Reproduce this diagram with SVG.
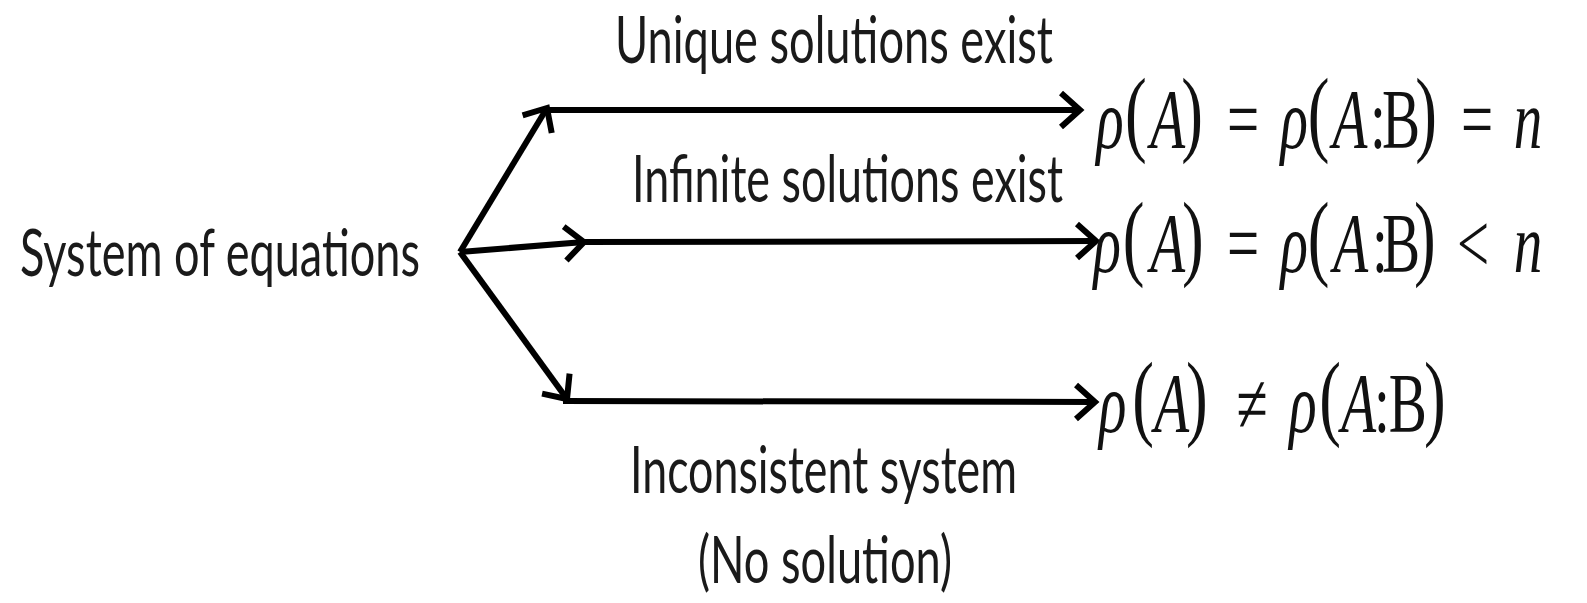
<svg xmlns="http://www.w3.org/2000/svg" width="1587" height="603" viewBox="0 0 1587 603">
<defs>
<marker id="arr" viewBox="-30 -25 40 50" refX="0" refY="0" markerWidth="40" markerHeight="50" markerUnits="userSpaceOnUse" orient="auto">
<path d="M-19,-17 L0,0 L-19,17" fill="none" stroke="#000" stroke-width="6" stroke-linejoin="miter"/>
</marker>
</defs>
<style>
.lbl{font-family:Lato,"Liberation Sans",sans-serif;font-size:66px;fill:#1a1a1a}
.ln{fill:none;stroke:#000;stroke-width:6}
.m{font-family:"Liberation Serif",serif;font-size:84px;fill:#111;text-anchor:middle}
.mi{font-style:italic}
.p{font-size:96px}
</style>
<rect width="1587" height="603" fill="#fff"/>
<g id="connectors">
<line class="ln" x1="460" y1="252" x2="547" y2="108" marker-end="url(#arr)"/>
<line class="ln" x1="543" y1="110" x2="1080" y2="110" marker-end="url(#arr)"/>
<line class="ln" x1="460" y1="252" x2="584" y2="242" marker-end="url(#arr)"/>
<line class="ln" x1="580" y1="242" x2="1096" y2="241" marker-end="url(#arr)"/>
<line class="ln" x1="460" y1="252" x2="567" y2="399" marker-end="url(#arr)"/>
<line class="ln" x1="563" y1="401" x2="1095" y2="402" marker-end="url(#arr)"/>
</g>
<g id="source">
<text class="lbl" x="20" y="276" textLength="400" lengthAdjust="spacingAndGlyphs">System of equations</text>
</g>
<g id="label-unique">
<text class="lbl" x="615" y="63" textLength="438" lengthAdjust="spacingAndGlyphs">Unique solutions exist</text>
</g>
<g id="label-infinite">
<text class="lbl" x="632" y="202" textLength="431" lengthAdjust="spacingAndGlyphs">Infinite solutions exist</text>
</g>
<g id="label-inconsistent">
<text class="lbl" x="630" y="493" textLength="387" lengthAdjust="spacingAndGlyphs">Inconsistent system</text>
<text class="lbl" x="698" y="583" textLength="254" lengthAdjust="spacingAndGlyphs">(No solution)</text>
</g>
<g id="result-unique">
<text class="m" transform="translate(1080,0) scale(0.68,1)"><tspan class="mi" x="44" y="148">ρ</tspan><tspan class="p" x="82" y="144">(</tspan><tspan class="mi" x="129" y="148">A</tspan><tspan class="p" x="165" y="144">)</tspan><tspan x="240" y="148">=</tspan><tspan class="mi" x="315" y="148">ρ</tspan><tspan class="p" x="351" y="144">(</tspan><tspan class="mi" x="397" y="148">A</tspan><tspan x="438" y="148">:</tspan><tspan x="472" y="148">B</tspan><tspan class="p" x="509" y="144">)</tspan><tspan x="584" y="148">=</tspan><tspan class="mi" x="659" y="148">n</tspan></text>
</g>
<g id="result-infinite">
<text class="m" transform="translate(1080,0) scale(0.68,1)"><tspan class="mi" x="40" y="272">ρ</tspan><tspan class="p" x="79" y="268">(</tspan><tspan class="mi" x="129" y="272">A</tspan><tspan class="p" x="166" y="268">)</tspan><tspan x="240" y="272">=</tspan><tspan class="mi" x="315" y="272">ρ</tspan><tspan class="p" x="351" y="268">(</tspan><tspan class="mi" x="398" y="272">A</tspan><tspan x="441" y="272">:</tspan><tspan x="472" y="272">B</tspan><tspan class="p" x="507" y="268">)</tspan><tspan x="578" y="272">&lt;</tspan><tspan class="mi" x="659" y="272">n</tspan></text>
</g>
<g id="result-inconsistent">
<text class="m" transform="translate(1080,0) scale(0.68,1)"><tspan class="mi" x="48" y="432">ρ</tspan><tspan class="p" x="93" y="428">(</tspan><tspan class="mi" x="135" y="432">A</tspan><tspan class="p" x="172" y="428">)</tspan><tspan x="253" y="432">≠</tspan><tspan class="mi" x="328" y="432">ρ</tspan><tspan class="p" x="368" y="428">(</tspan><tspan class="mi" x="410" y="432">A</tspan><tspan x="444" y="432">:</tspan><tspan x="482" y="432">B</tspan><tspan class="p" x="522" y="428">)</tspan></text>
</g>
</svg>
